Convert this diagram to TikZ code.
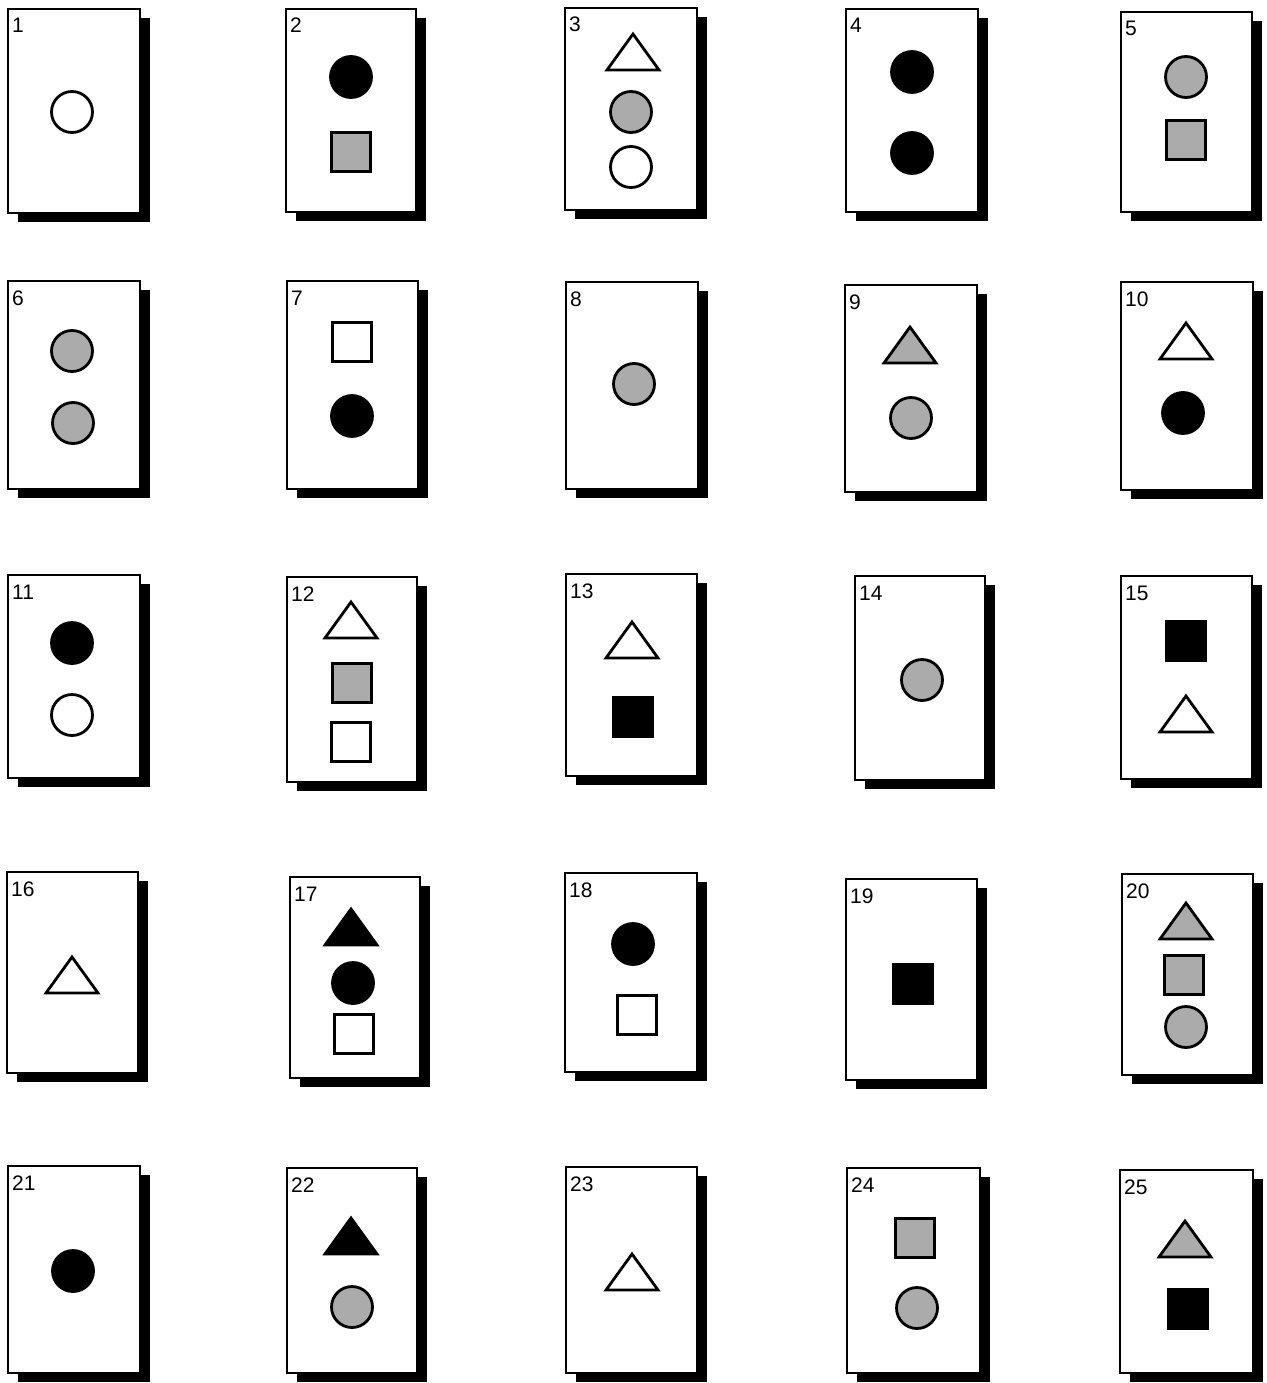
\documentclass[tikz,border=0pt]{standalone}
\usepackage{fontspec}
\setmainfont{Liberation Sans}
\usetikzlibrary{shadows,fit}
\tikzset{
  cardbox/.style={draw, line width=2.2pt, fill=white, inner sep=0pt,
    drop shadow={shadow xshift=10pt, shadow yshift=-9pt, fill=black, opacity=1}},
  lbl/.style={anchor=base west, inner sep=0pt, font=\fontsize{21}{21}\selectfont},
  shp/.style={draw=black, line width=2.8pt, inner sep=0pt},
  circ/.style={shp, circle, minimum size=41pt},
  sq/.style={shp, rectangle, minimum size=39pt},
  wf/.style={fill=white},
  bf/.style={fill=black},
  gf/.style={fill=black!33},
}
\newcommand\card[5]{%
  \node[cardbox, fit={(#2,#3) (#4,#5)}] (card#1) {};
  \node[lbl] (num#1) at ({#2+4},{#3+24}) {#1};}
\newcommand\tri[3]{%
  \filldraw[shp,#1] ({#2-26},{#3+18}) -- ({#2},{#3-18}) -- ({#2+26},{#3+18}) -- cycle;}
\begin{document}
\begin{tikzpicture}[x=1pt,y=-1pt]
\useasboundingbox[fill=white] (0,0) rectangle (1266,1383);
% row 1
\card{1}{8}{9}{140}{213}
\node[circ,wf] (s1a) at (72,112) {};
\card{2}{286}{9}{416}{212}
\node[circ,bf] (s2a) at (351,77) {};
\node[sq,gf] (s2b) at (351,152) {};
\card{3}{565}{8}{697}{210}
\tri{wf}{633}{52}
\node[circ,gf] (s3b) at (631,112) {};
\node[circ,wf] (s3c) at (631,167) {};
\card{4}{846}{9}{978}{212}
\node[circ,bf] (s4a) at (912,72) {};
\node[circ,bf] (s4b) at (912,153) {};
\card{5}{1121}{12}{1252}{212}
\node[circ,gf] (s5a) at (1186,77) {};
\node[sq,gf] (s5b) at (1186,140) {};
% row 2
\card{6}{8}{281}{140}{489}
\node[circ,gf] (s6a) at (72,351) {};
\node[circ,gf] (s6b) at (73,423) {};
\card{7}{287}{281}{418}{489}
\node[sq,wf] (s7a) at (352,342) {};
\node[circ,bf] (s7b) at (352,416) {};
\card{8}{566}{282}{698}{489}
\node[circ,gf] (s8a) at (634,384) {};
\card{9}{845}{285}{977}{492}
\tri{gf}{910}{345}
\node[circ,gf] (s9b) at (911,418) {};
\card{10}{1121}{282}{1253}{490}
\tri{wf}{1186}{341}
\node[circ,bf] (s10b) at (1183,413) {};
% row 3
\card{11}{8}{575}{140}{778}
\node[circ,bf] (s11a) at (72,643) {};
\node[circ,wf] (s11b) at (72,715) {};
\card{12}{287}{577}{417}{782}
\tri{wf}{351}{620}
\node[sq,gf] (s12b) at (352,683) {};
\node[sq,wf] (s12c) at (351,742) {};
\card{13}{566}{574}{697}{776}
\tri{wf}{632}{640}
\node[sq,bf] (s13b) at (633,717) {};
\card{14}{855}{576}{985}{780}
\node[circ,gf] (s14a) at (922,680) {};
\card{15}{1121}{576}{1252}{779}
\node[sq,bf] (s15a) at (1186,641) {};
\tri{wf}{1186}{714}
% row 4
\card{16}{7}{872}{138}{1073}
\tri{wf}{72}{975}
\card{17}{290}{877}{420}{1078}
\tri{bf}{351}{927}
\node[circ,bf] (s17b) at (353,983) {};
\node[sq,wf] (s17c) at (354,1034) {};
\card{18}{565}{873}{697}{1072}
\node[circ,bf] (s18a) at (633,944) {};
\node[sq,wf] (s18b) at (637,1015) {};
\card{19}{846}{879}{977}{1080}
\node[sq,bf] (s19a) at (913,984) {};
\card{20}{1122}{874}{1253}{1075}
\tri{gf}{1186}{921}
\node[sq,gf] (s20b) at (1184,975) {};
\node[circ,gf] (s20c) at (1186,1027) {};
% row 5
\card{21}{8}{1166}{140}{1373}
\node[circ,bf] (s21a) at (73,1271) {};
\card{22}{287}{1168}{417}{1373}
\tri{bf}{351}{1236}
\node[circ,gf] (s22b) at (352,1307) {};
\card{23}{566}{1167}{697}{1373}
\tri{wf}{632}{1272}
\card{24}{847}{1168}{980}{1373}
\node[sq,gf] (s24a) at (915,1238) {};
\node[circ,gf] (s24b) at (917,1308) {};
\card{25}{1120}{1170}{1253}{1373}
\tri{gf}{1185}{1239}
\node[sq,bf] (s25b) at (1188,1309) {};
\end{tikzpicture}
\end{document}
